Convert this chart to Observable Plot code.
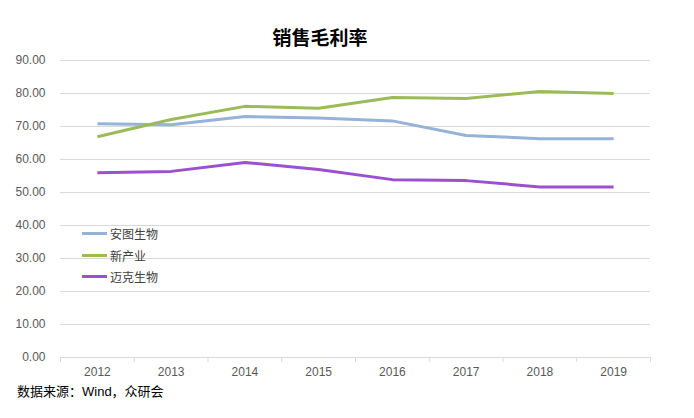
<!DOCTYPE html>
<html><head><meta charset="utf-8">
<script src="https://cdn.jsdelivr.net/npm/d3@7"></script>
<script src="https://cdn.jsdelivr.net/npm/@observablehq/plot@0.6"></script>
<style>
body{margin:0;background:#fff;}
#wrap{position:relative;width:694px;height:418px;font-family:"Liberation Sans","Noto Sans CJK SC",sans-serif;}
#title{position:absolute;left:0;width:640px;top:25px;text-align:center;font-size:19px;font-weight:bold;color:#000;line-height:24px;font-family:"Noto Sans CJK SC","Liberation Sans",sans-serif;}
#chart{position:absolute;left:0;top:50px;}
#legend{position:absolute;left:82px;top:223px;font-size:12px;color:#404040;font-family:"Noto Sans CJK SC",sans-serif;}
.row{display:flex;align-items:center;height:21.5px;}
.sw{width:25px;height:3px;margin-right:3px;}
#caption{position:absolute;left:17px;top:382px;font-size:13px;line-height:20px;color:#000;font-family:"Liberation Sans","Noto Sans CJK SC",sans-serif;}
</style></head>
<body>
<div id="wrap">
<div id="title"></div>
<div id="chart"></div>
<div id="legend"></div>
<div id="caption"></div>
</div>
<script>
const titleText = "销售毛利率";
const captionText = "数据来源：Wind，众研会";
const years = [2012, 2013, 2014, 2015, 2016, 2017, 2018, 2019];
const seriesNames = ["安图生物", "新产业", "迈克生物"];
const seriesColors = ["#95B3D7", "#9BBB59", "#9B51CF"];
const antu = [70.8, 70.5, 73.0, 72.6, 71.7, 67.3, 66.3, 66.3];
const xinchanye = [66.9, 72.1, 76.1, 75.5, 78.8, 78.5, 80.6, 80.0];
const maike = [56.0, 56.4, 59.1, 57.0, 53.9, 53.6, 51.7, 51.7];
const yTicks = [0, 10, 20, 30, 40, 50, 60, 70, 80, 90];

const allSeries = [antu, xinchanye, maike];
const data = [];
allSeries.forEach((vals, si) => vals.forEach((v, i) => data.push({year: years[i], value: v, series: seriesNames[si]})));
const boundaries = years.map(y => y - 0.5).concat([years[years.length - 1] + 0.5]);

document.getElementById("title").textContent = titleText;
document.getElementById("caption").textContent = captionText;

const chart = Plot.plot({
  width: 694,
  height: 330,
  marginLeft: 60,
  marginRight: 44,
  marginTop: 10,
  marginBottom: 23,
  style: {fontFamily: "'Liberation Sans', Arial, sans-serif", fontSize: "12px", color: "#595959", background: "#fff"},
  x: {type: "linear", domain: [boundaries[0], boundaries[boundaries.length - 1]]},
  y: {domain: [0, 90]},
  color: {domain: seriesNames, range: seriesColors},
  marks: [
    Plot.gridY(yTicks, {stroke: "#d9d9d9", strokeOpacity: 1}),
    Plot.axisY(yTicks, {tickSize: 0, tickPadding: 15, tickFormat: d3.format(".2f"), label: null, fill: "#595959", fontSize: 12}),
    Plot.ruleY([0], {stroke: "#d9d9d9"}),
    Plot.axisX(boundaries, {tickSize: 5, stroke: "#d9d9d9", strokeOpacity: 1, tickFormat: () => "", label: null}),
    Plot.axisX(years, {tickSize: 0, tickPadding: 10, tickFormat: d => String(d), label: null, fill: "#595959", fontSize: 12}),
    Plot.line(data, {x: "year", y: "value", z: "series", stroke: "series", strokeWidth: 3, strokeLinejoin: "round", strokeLinecap: "butt"})
  ]
});
document.getElementById("chart").appendChild(chart);

const legend = document.getElementById("legend");
seriesNames.forEach((n, i) => {
  const row = document.createElement("div");
  row.className = "row";
  const sw = document.createElement("div");
  sw.className = "sw";
  sw.style.background = seriesColors[i];
  const t = document.createElement("span");
  t.textContent = n;
  row.appendChild(sw); row.appendChild(t);
  legend.appendChild(row);
});
</script>
</body></html>
